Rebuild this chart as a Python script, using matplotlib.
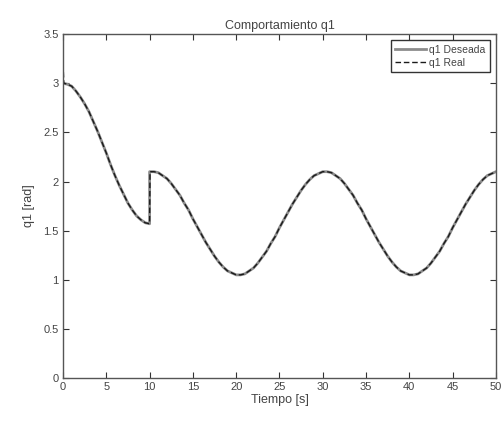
import matplotlib.pyplot as plt

# valores (cada 0.5 s)
t_des = [0, 0.5, 1, 1.5, 2, 2.5, 3, 3.5, 4, 4.5, 5, 5.5, 6, 6.5, 7, 7.5, 8, 8.5, 9, 9.5, 10,
         10, 10.5, 11, 11.5, 12, 12.5, 13, 13.5, 14, 14.5, 15, 15.5, 16, 16.5, 17, 17.5,
         18, 18.5, 19, 19.5, 20, 20.5, 21, 21.5, 22, 22.5, 23, 23.5, 24, 24.5, 25, 25.5,
         26, 26.5, 27, 27.5, 28, 28.5, 29, 29.5, 30, 30.5, 31, 31.5, 32, 32.5, 33, 33.5,
         34, 34.5, 35, 35.5, 36, 36.5, 37, 37.5, 38, 38.5, 39, 39.5, 40, 40.5, 41, 41.5,
         42, 42.5, 43, 43.5, 44, 44.5, 45, 45.5, 46, 46.5, 47, 47.5, 48, 48.5, 49, 49.5, 50]
q_des = [3.00, 2.99, 2.97, 2.92, 2.86, 2.79, 2.71, 2.61, 2.51, 2.40, 2.29, 2.17, 2.06,
         1.96, 1.87, 1.78, 1.71, 1.65, 1.61, 1.58, 1.57,
         2.10, 2.10, 2.09, 2.06, 2.03, 1.98, 1.92, 1.86, 1.78, 1.71, 1.62, 1.54, 1.46, 1.38,
         1.31, 1.24, 1.18, 1.13, 1.09, 1.07, 1.05, 1.05, 1.06, 1.09, 1.12, 1.17, 1.23, 1.29,
         1.37, 1.44, 1.53, 1.61, 1.69, 1.77, 1.84, 1.91, 1.97, 2.02, 2.06, 2.08, 2.10, 2.10,
         2.09, 2.06, 2.03, 1.98, 1.92, 1.86, 1.78, 1.71, 1.62, 1.54, 1.46, 1.38, 1.31, 1.24,
         1.18, 1.13, 1.09, 1.07, 1.05, 1.05, 1.06, 1.09, 1.12, 1.17, 1.23, 1.29, 1.37, 1.44,
         1.53, 1.61, 1.69, 1.77, 1.84, 1.91, 1.97, 2.02, 2.06, 2.08, 2.10]

t_real = [0, 0.1, 0.5, 1, 1.5, 2, 2.5, 3, 3.5, 4, 4.5, 5, 5.5, 6, 6.5, 7, 7.5, 8, 8.5, 9, 9.5, 10,
          10.05, 10.5, 11, 11.5, 12, 12.5, 13, 13.5, 14, 14.5, 15, 15.5, 16, 16.5, 17, 17.5,
          18, 18.5, 19, 19.5, 20, 20.5, 21, 21.5, 22, 22.5, 23, 23.5, 24, 24.5, 25, 25.5,
          26, 26.5, 27, 27.5, 28, 28.5, 29, 29.5, 30, 30.5, 31, 31.5, 32, 32.5, 33, 33.5,
          34, 34.5, 35, 35.5, 36, 36.5, 37, 37.5, 38, 38.5, 39, 39.5, 40, 40.5, 41, 41.5,
          42, 42.5, 43, 43.5, 44, 44.5, 45, 45.5, 46, 46.5, 47, 47.5, 48, 48.5, 49, 49.5, 50]
q_real = [3.20, 3.00, 2.99, 2.97, 2.92, 2.86, 2.79, 2.71, 2.61, 2.51, 2.40, 2.29, 2.17, 2.06,
          1.96, 1.87, 1.78, 1.71, 1.65, 1.61, 1.58, 1.57,
          2.10, 2.10, 2.09, 2.06, 2.03, 1.98, 1.92, 1.86, 1.78, 1.71, 1.62, 1.54, 1.46, 1.38,
          1.31, 1.24, 1.18, 1.13, 1.09, 1.07, 1.05, 1.05, 1.06, 1.09, 1.12, 1.17, 1.23, 1.29,
          1.37, 1.44, 1.53, 1.61, 1.69, 1.77, 1.84, 1.91, 1.97, 2.02, 2.06, 2.08, 2.10, 2.10,
          2.09, 2.06, 2.03, 1.98, 1.92, 1.86, 1.78, 1.71, 1.62, 1.54, 1.46, 1.38, 1.31, 1.24,
          1.18, 1.13, 1.09, 1.07, 1.05, 1.05, 1.06, 1.09, 1.12, 1.17, 1.23, 1.29, 1.37, 1.44,
          1.53, 1.61, 1.69, 1.77, 1.84, 1.91, 1.97, 2.02, 2.06, 2.08, 2.10]

xticks = [0, 5, 10, 15, 20, 25, 30, 35, 40, 45, 50]
yticks = [0, 0.5, 1, 1.5, 2, 2.5, 3, 3.5]
ylabels = ['0', '0.5', '1', '1.5', '2', '2.5', '3', '3.5']

plt.rcParams['font.family'] = ['Liberation Sans', 'DejaVu Sans']
txt = '#444444'

fig = plt.figure(figsize=(5.04, 4.21), dpi=100)
ax = fig.add_axes([0.125, 0.102, 0.859, 0.817])
ax.plot(t_des, q_des, color='#8c8c8c', lw=2, label='q1 Deseada')
ax.plot(t_real, q_real, color='#1a1a1a', lw=1, ls='--', dashes=(4, 2), label='q1 Real')

ax.set_xlim(0, 50)
ax.set_ylim(0, 3.5)
ax.set_xticks(xticks)
ax.set_yticks(yticks)
ax.set_yticklabels(ylabels)
ax.tick_params(direction='in', top=True, right=True, labelsize=8, colors='#333333',
               labelcolor=txt, length=4, pad=3)
for s in ax.spines.values():
    s.set_color('#555555')
    s.set_linewidth(1)

ax.set_title('Comportamiento q1', fontsize=9, color=txt, pad=4)
ax.set_xlabel('Tiempo [s]', fontsize=9, color=txt, labelpad=1)
ax.set_ylabel('q1 [rad]', fontsize=9, color=txt, labelpad=6)

leg = ax.legend(loc='upper right', fontsize=7.5, fancybox=False, framealpha=1,
                edgecolor='#333333', handlelength=3, borderaxespad=0.6,
                labelspacing=0.3, handletextpad=0.3, borderpad=0.4)
for t in leg.get_texts():
    t.set_color(txt)

fig.savefig('out.png', dpi=100)
